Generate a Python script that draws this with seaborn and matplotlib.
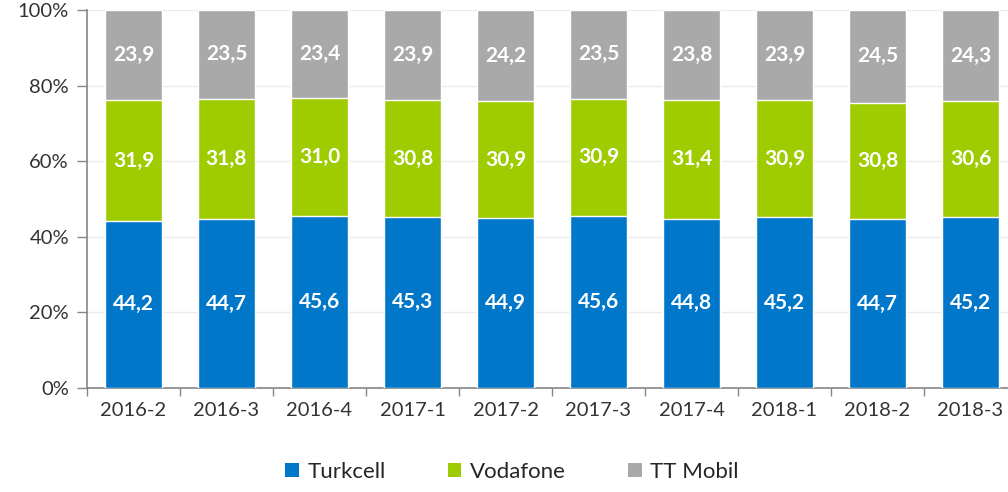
import matplotlib
matplotlib.use("Agg")
import matplotlib.pyplot as plt
import seaborn as sns
import pandas as pd
import numpy as np
from matplotlib.patches import Patch

periods = ["2016-2", "2016-3", "2016-4", "2017-1", "2017-2", "2017-3", "2017-4", "2018-1", "2018-2", "2018-3"]
turkcell = [44.2, 44.7, 45.6, 45.3, 44.9, 45.6, 44.8, 45.2, 44.7, 45.2]
vodafone = [31.9, 31.8, 31.0, 30.8, 30.9, 30.9, 31.4, 30.9, 30.8, 30.6]
ttmobil = [23.9, 23.5, 23.4, 23.9, 24.2, 23.5, 23.8, 23.9, 24.5, 24.3]

series_names = ["Turkcell", "Vodafone", "TT Mobil"]
colors = ["#0077C8", "#9ECC00", "#A9A9A9"]

sns.set_style("white")
plt.rcParams["font.family"] = ["Lato", "DejaVu Sans"]

df = pd.DataFrame({"period": periods, "Turkcell": turkcell, "Vodafone": vodafone, "TT Mobil": ttmobil})
df["c1"] = df["Turkcell"]
df["c2"] = df["Turkcell"] + df["Vodafone"]
df["c3"] = df["c2"] + df["TT Mobil"]

fig = plt.figure(figsize=(10.08, 4.92), dpi=100)
ax = fig.add_axes([87 / 1008, 1 - 388 / 492, 930 / 1008, 378 / 492])

bw = 0.61
sns.barplot(data=df, x="period", y="c3", color=colors[2], width=bw, ax=ax, saturation=1, zorder=2)
sns.barplot(data=df, x="period", y="c2", color=colors[1], width=bw, ax=ax, saturation=1, zorder=3)
sns.barplot(data=df, x="period", y="c1", color=colors[0], width=bw, ax=ax, saturation=1, zorder=4)

def fmt(v):
    return f"{v:.1f}".replace(".", ",")

for i in range(len(periods)):
    bottoms = [0, df["c1"][i], df["c2"][i]]
    vals = [turkcell[i], vodafone[i], ttmobil[i]]
    for b, v in zip(bottoms, vals):
        ax.text(i, b + v / 2, fmt(v), ha="center", va="center", color="white",
                fontsize=15, fontweight="bold", zorder=6)

ax.set_ylim(0, 100)
ax.set_xlim(-0.5, 9.5)
ax.set_yticks([0, 20, 40, 60, 80, 100])
ax.set_yticklabels(["0%", "20%", "40%", "60%", "80%", "100%"], fontsize=14.5, color="#333333")
ax.tick_params(axis="y", length=7, color="#868686", width=1, pad=6, left=True)
ax.tick_params(axis="x", which="major", length=0, pad=10, labelsize=14.5, labelcolor="#333333")
ax.set_xticks(np.arange(-0.5, 10, 1), minor=True)
ax.tick_params(axis="x", which="minor", length=6, color="#868686", width=1, bottom=True)
ax.set_xlabel("")
ax.set_ylabel("")
ax.yaxis.grid(True, color="#EBEBEB", linewidth=1, zorder=0)
ax.set_axisbelow(True)
for s in ["top", "right"]:
    ax.spines[s].set_visible(False)
for s in ["left", "bottom"]:
    ax.spines[s].set_color("#868686")
    ax.spines[s].set_linewidth(1.2)

handles = [Patch(facecolor=c, edgecolor="none") for c in colors]
fig.legend(handles, series_names, loc="center", bbox_to_anchor=(0.508, 1 - 472 / 492), ncol=3,
           frameon=False, fontsize=16, handlelength=0.6, handleheight=0.6, handletextpad=0.4,
           columnspacing=2.8)

fig.savefig("out.png", dpi=100)
